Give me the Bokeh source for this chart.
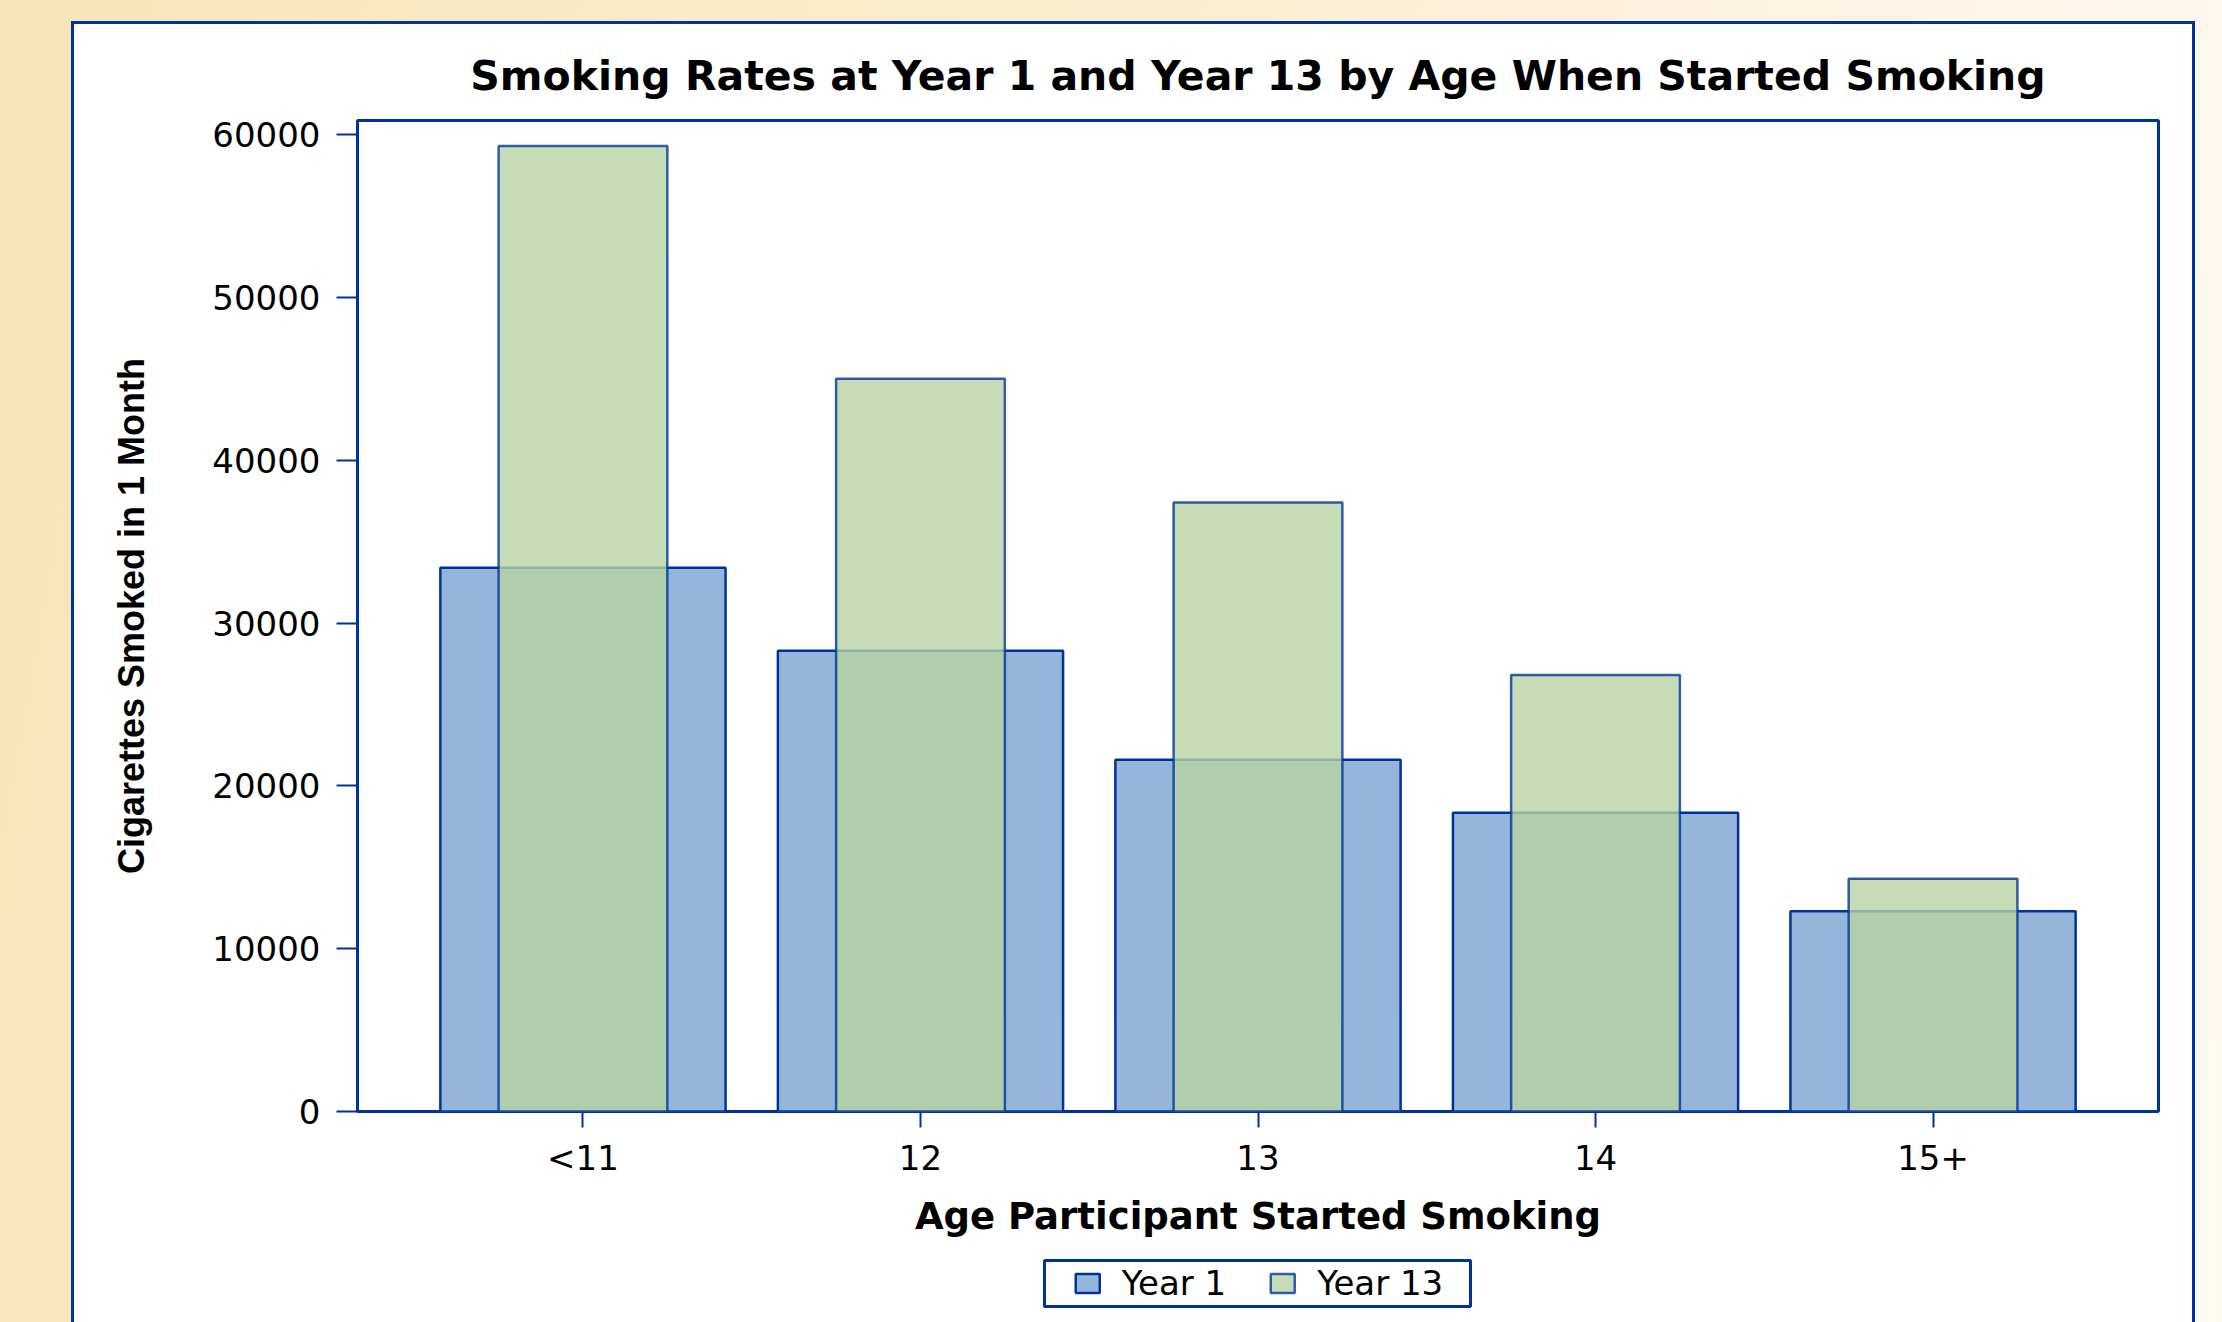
from bokeh.plotting import figure
from bokeh.layouts import column
from bokeh.models import (FactorRange, Range1d, FixedTicker, Legend, LegendItem,
                          ColumnDataSource, BoxAnnotation)
from bokeh.core.properties import value
from bokeh.embed import file_html
from bokeh.resources import INLINE

# ---------------- data ----------------
ages = ["<11", "12", "13", "14", "15+"]
year1 = [33400, 28300, 21600, 18350, 12300]
year13 = [59300, 45000, 37400, 26800, 14300]
y_ticks = [0, 10000, 20000, 30000, 40000, 50000, 60000]
series_names = ["Year 1", "Year 13"]

title_text = "Smoking Rates at Year 1 and Year 13 by Age When Started Smoking"
x_label = "Age Participant Started Smoking"
y_label = "Cigarettes Smoked in 1 Month"

# ---------------- styles ----------------
BLUE = "#003399"
FILL1 = "#95B6DA"
FILL13 = "#B7D2A3"
PAGE_BG = "linear-gradient(100deg, #F9E4B5 0%, #FBEDCF 45%, #FEFAF2 100%)"

p = figure(width=2118, height=1226,
           x_range=FactorRange(factors=ages, range_padding=0.168,
                               range_padding_units="absolute"),
           y_range=Range1d(0, 60860),
           output_backend="svg", toolbar_location=None,
           min_border_left=283, min_border_right=34,
           min_border_top=96, min_border_bottom=139,
           title=title_text)

p.border_fill_color = "white"
p.background_fill_color = "white"
p.outline_line_color = BLUE
p.outline_line_width = 3

src = ColumnDataSource(dict(age=ages, year1=year1, year13=year13))
bar1 = dict(fill_color=FILL1, line_color=BLUE, line_width=2.5)
bar13 = dict(fill_color=FILL13, fill_alpha=0.79, line_color=BLUE, line_alpha=0.79, line_width=2.5)
r1 = p.vbar(x="age", top="year1", width=0.845, source=src, **bar1)
r2 = p.vbar(x="age", top="year13", width=0.5, source=src, **bar13)

# title
p.title.text_font = "DejaVu Sans"
p.title.text_font_size = "41px"
p.title.text_font_style = "bold"
p.title.text_color = "black"
p.title.align = "center"
p.title.standoff = 41

p.grid.visible = False

# x axis
xa = p.xaxis[0]
xa.axis_line_color = None
xa.major_tick_out = 16
xa.major_tick_in = 0
xa.major_tick_line_color = BLUE
xa.major_tick_line_width = 2
xa.minor_tick_line_color = None
xa.major_label_text_font = "DejaVu Sans"
xa.major_label_text_font_size = "34px"
xa.major_label_text_color = "black"
xa.major_label_standoff = 10
xa.axis_label = x_label
xa.axis_label_text_font = "DejaVu Sans"
xa.axis_label_text_font_size = "37px"
xa.axis_label_text_font_style = "bold"
xa.axis_label_text_color = "black"
xa.axis_label_standoff = 14

# y axis
ya = p.yaxis[0]
ya.ticker = FixedTicker(ticks=y_ticks)
ya.axis_line_color = None
ya.major_tick_out = 21
ya.major_tick_in = 0
ya.major_tick_line_color = BLUE
ya.major_tick_line_width = 2
ya.minor_tick_line_color = None
ya.major_label_text_font = "DejaVu Sans"
ya.major_label_text_font_size = "34px"
ya.major_label_text_color = "black"
ya.major_label_standoff = 16
ya.axis_label = y_label
ya.axis_label_text_font = "Liberation Sans"
ya.axis_label_text_font_size = "36px"
ya.axis_label_text_font_style = "bold"
ya.axis_label_text_color = "black"
ya.axis_label_standoff = 57

# ---------------- legend strip (separate figure under the chart) ----------------
lp = figure(width=2118, height=66, output_backend="svg", toolbar_location=None,
            x_range=p.x_range, y_range=Range1d(70000, 80000),
            x_axis_location=None, y_axis_location=None,
            min_border_left=283, min_border_right=34,
            min_border_top=0, min_border_bottom=0)
lp.grid.visible = False
lp.border_fill_color = "white"
lp.background_fill_color = "white"
lp.outline_line_color = None
l1 = lp.vbar(x="age", top="year1", width=0.845, source=src, **bar1)
l2 = lp.vbar(x="age", top="year13", width=0.5, source=src, **bar13)

# white cover over the strip so only the legend is seen
cover = BoxAnnotation(left=0, right=2118, top=0, bottom=66,
                      left_units="canvas", right_units="canvas",
                      top_units="canvas", bottom_units="canvas",
                      fill_color="white", fill_alpha=1.0,
                      line_color=None, level="annotation")
lp.add_layout(cover)

legend_frame = BoxAnnotation(left=970, right=1396, top=10, bottom=56,
                             left_units="canvas", right_units="canvas",
                             top_units="canvas", bottom_units="canvas",
                             fill_color="white", fill_alpha=1.0,
                             line_color=BLUE, line_alpha=1.0, line_width=3,
                             level="annotation")
lp.add_layout(legend_frame)

legend = Legend(items=[LegendItem(label=value(series_names[0]), renderers=[l1]),
                       LegendItem(label=value(series_names[1]), renderers=[l2])],
                orientation="horizontal", location="center",
                glyph_width=30, glyph_height=24, label_standoff=20, spacing=41,
                padding=0, margin=0,
                border_line_color=None, background_fill_alpha=0,
                label_text_font="DejaVu Sans", label_text_font_size="34px",
                label_text_color="black")
lp.add_layout(legend)

panel = column(p, lp, width=2118, height=1298, margin=(24, 30, 0, 74),
               styles={"background": "white", "outline": "3px solid #003399"})
root = column(panel, width=2222, height=1322, styles={"background": PAGE_BG})

open("out.html", "w").write(file_html(root, INLINE))
